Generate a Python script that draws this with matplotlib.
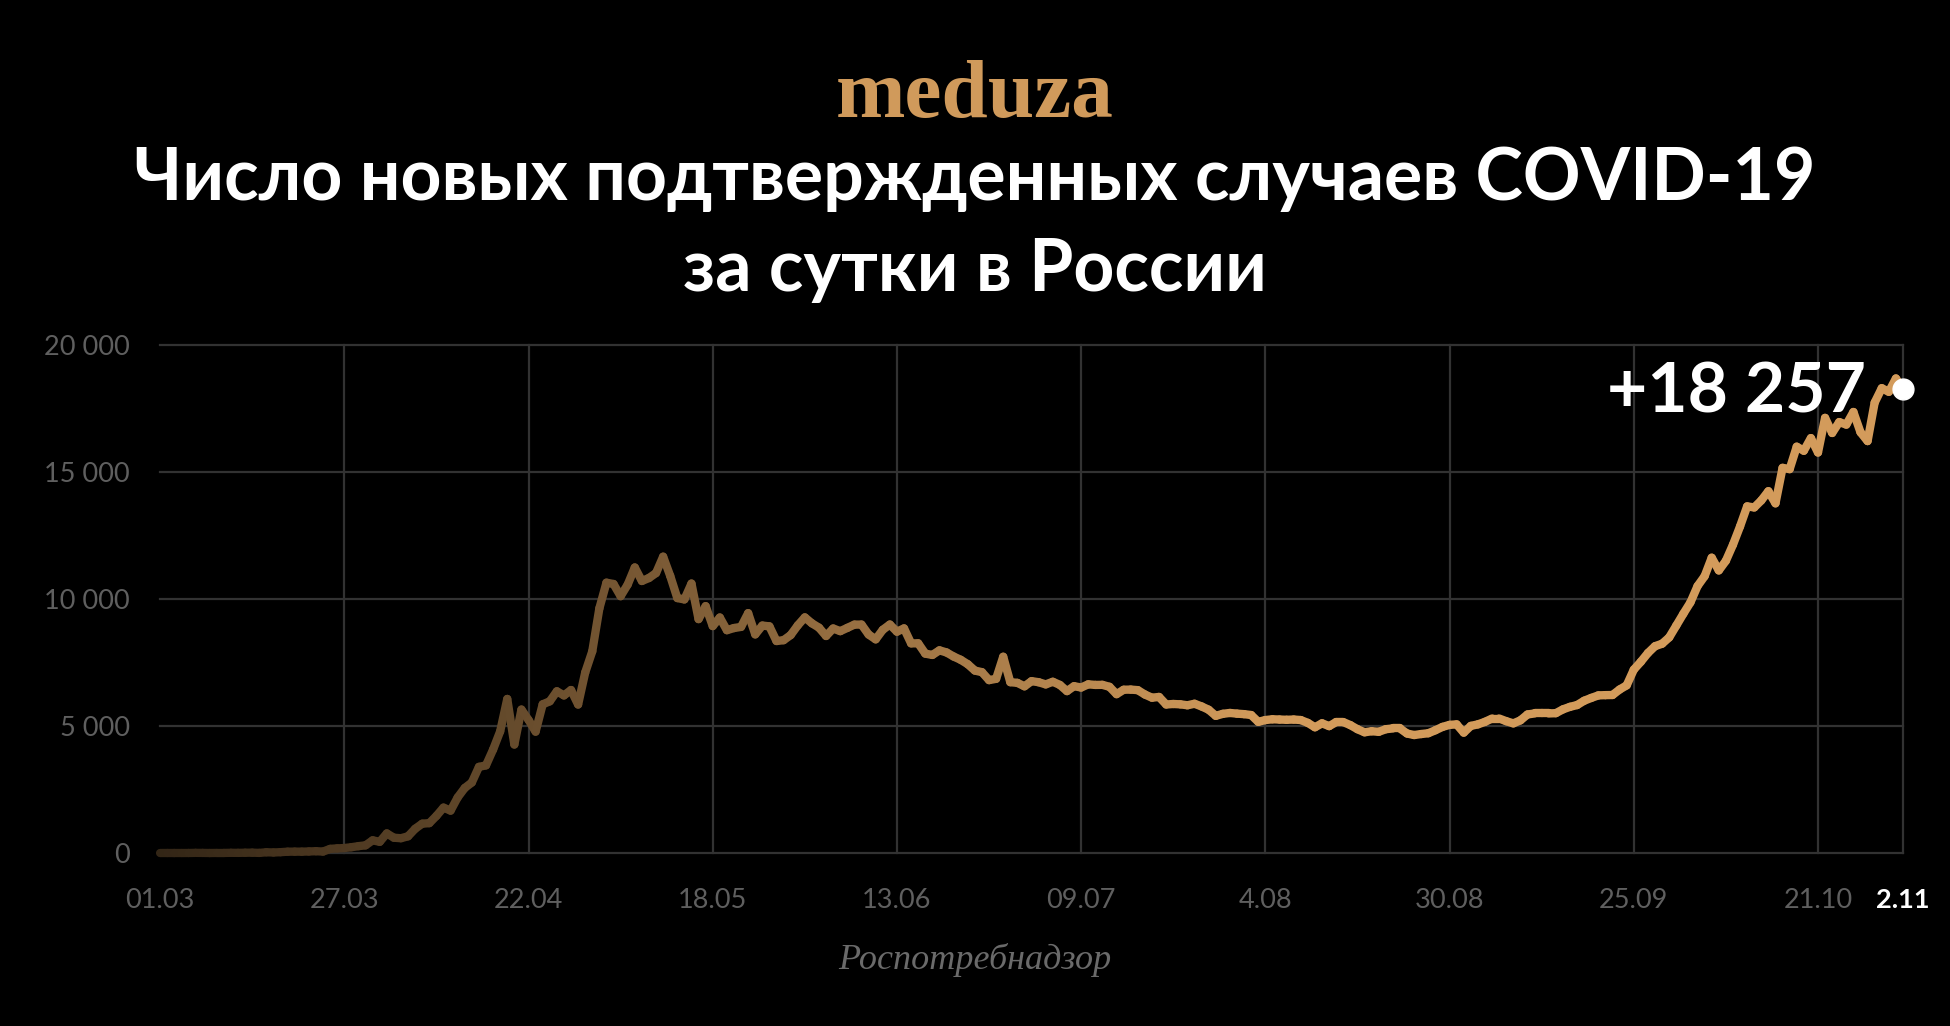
import matplotlib
matplotlib.use("Agg")
import matplotlib.pyplot as plt
from matplotlib.collections import LineCollection
import numpy as np

plt.rcParams['font.family'] = ['Lato', 'DejaVu Sans']

# daily new cases, 01.03 - 02.11
march = [0, 1, 0, 0, 1, 6, 4, 0, 3, 3, 8, 6, 11, 14, 4, 30, 21, 33, 52, 54,
         53, 61, 71, 57, 163, 182, 196, 228, 270, 302, 500]
april = [440, 771, 601, 582, 658, 954, 1154, 1175, 1459, 1786, 1667, 2186,
         2558, 2774, 3388, 3448, 4070, 4785, 6060, 4268, 5642, 5236, 4774,
         5849, 5966, 6361, 6198, 6411, 5841, 7099]
may = [7933, 9623, 10633, 10581, 10102, 10559, 11231, 10699, 10817, 11012,
       11656, 10899, 10028, 9974, 10598, 9200, 9709, 8926, 9263, 8764, 8849,
       8894, 9434, 8599, 8946, 8915, 8338, 8371, 8572, 8952, 9268]
june = [9035, 8863, 8536, 8831, 8726, 8855, 8984, 8985, 8595, 8404, 8779,
        8987, 8706, 8835, 8246, 8248, 7843, 7790, 7972, 7889, 7728, 7600,
        7425, 7176, 7113, 6800, 6852, 7720, 6719, 6693]
july = [6556, 6760, 6718, 6632, 6736, 6611, 6368, 6562, 6509, 6635, 6611,
        6615, 6537, 6248, 6422, 6428, 6406, 6234, 6109, 6139, 5842, 5862,
        5848, 5811, 5871, 5765, 5635, 5395, 5475, 5509, 5482]
august = [5462, 5427, 5159, 5230, 5260, 5250, 5240, 5250, 5230, 5118, 4945,
          5102, 4990, 5150, 5150, 5030, 4870, 4748, 4790, 4767, 4870, 4900,
          4900, 4700, 4640, 4680, 4711, 4829, 4960, 5040, 5060]
september = [4735, 5000, 5060, 5160, 5290, 5290, 5185, 5099, 5218, 5450,
             5490, 5490, 5490, 5500, 5650, 5750, 5820, 5990, 6100, 6200,
             6210, 6215, 6431, 6595, 7212, 7523, 7867, 8135, 8232, 8481]
october = [8945, 9412, 9859, 10499, 10888, 11615, 11115, 11493, 12126, 12846,
           13634, 13592, 13868, 14231, 13754, 15150, 15099, 15982, 15821,
           16319, 15753, 17115, 16521, 16950, 16850, 17347, 16550, 16202,
           17717, 18283, 18140]
november = [18665, 18257]

cases = np.array(march + april + may + june + july + august + september
                 + october + november, dtype=float)
days = np.arange(len(cases))

tick_days = [0, 26, 52, 78, 104, 130, 156, 182, 208, 234, 246]
tick_labels = ['01.03', '27.03', '22.04', '18.05', '13.06', '09.07', '4.08',
               '30.08', '25.09', '21.10', '2.11']
y_ticks = [0, 5000, 10000, 15000, 20000]

bg = '#000000'
tan = np.array([0.827, 0.608, 0.357])
grid_c = '#323232'
label_c = '#5f5f5f'

fig = plt.figure(figsize=(19.5, 10.26), dpi=100, facecolor=bg)
ax = fig.add_axes([0.0821, 0.1686, 0.8938, 0.4956], facecolor=bg)
ax.set_xlim(0, days[-1])
ax.set_ylim(0, 20000)
for s in ax.spines.values():
    s.set_visible(False)

for y in y_ticks:
    ax.axhline(y, color=grid_c, lw=1.6, zorder=0, clip_on=False)
for d in tick_days[1:]:
    ax.axvline(d, color=grid_c, lw=1.6, zorder=0, clip_on=False)

# line fading in from the left
pts = np.column_stack([days, cases]).reshape(-1, 1, 2)
segs = np.concatenate([pts[:-1], pts[1:]], axis=1)
mid = (days[:-1] + days[1:]) / 2
t = np.clip(0.24 + 0.76 * mid / 156, 0, 1)
cols = np.outer(t, tan)
lc = LineCollection(segs, colors=cols, linewidths=6, capstyle='round',
                    joinstyle='round', zorder=3, clip_on=False)
ax.add_collection(lc)

ax.plot(days[-1], cases[-1], 'o', color='white', ms=15, zorder=5, clip_on=False)
ax.annotate('+' + format(int(cases[-1]), ',').replace(',', ' '),
            xy=(days[-1], cases[-1]), xytext=(-27, -17),
            textcoords='offset points', ha='right', va='baseline',
            color='white', fontsize=50, fontweight='bold', zorder=6)

ax.set_xticks(tick_days)
ax.set_xticklabels(tick_labels)
ax.set_yticks(y_ticks)
ax.set_yticklabels([format(v, ',').replace(',', ' ') for v in y_ticks])
ax.tick_params(length=0, colors=label_c, labelsize=19.5)
ax.tick_params(axis='x', pad=25)
ax.tick_params(axis='y', pad=22)
last = ax.get_xticklabels()[-1]
last.set_color('white')
last.set_fontweight('bold')

fig.text(0.5, 0.905, 'meduza', ha='center', va='center', color='#d09a5b',
         fontsize=60, fontweight='bold', family=['Liberation Serif', 'DejaVu Serif'])
fig.text(0.5, 0.8246, 'Число новых подтвержденных случаев COVID-19',
         ha='center', va='center', color='white', fontsize=51.5, fontweight='bold')
fig.text(0.5, 0.7359, 'за сутки в России',
         ha='center', va='center', color='white', fontsize=51.5, fontweight='bold')
fig.text(0.5, 0.0643, 'Роспотребнадзор', ha='center', va='center',
         color='#6a6a6a', fontsize=26, style='italic',
         family=['Liberation Serif', 'DejaVu Serif'])

fig.savefig('out.png', dpi=100, facecolor=bg)
